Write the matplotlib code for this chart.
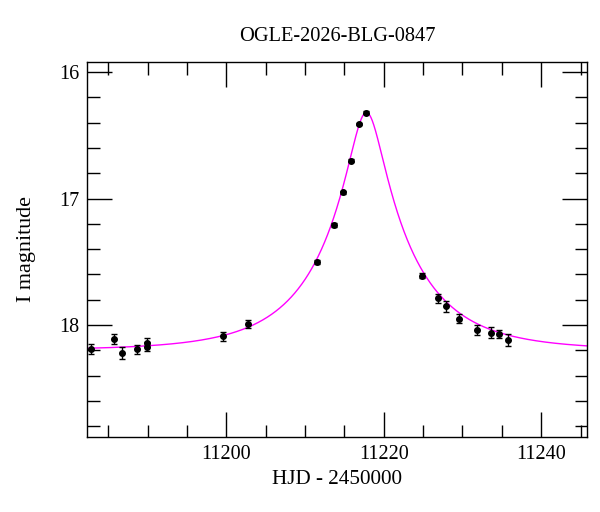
import numpy as np
import matplotlib
matplotlib.use("Agg")
import matplotlib.pyplot as plt
from matplotlib.ticker import MultipleLocator

# photometry (HJD - 2450000, I mag, error)
hjd = [11182.75, 11185.7, 11186.8, 11188.7, 11189.9, 11189.9, 11199.6, 11202.8,
       11211.5, 11213.7, 11214.8, 11215.8, 11216.8, 11217.8,
       11224.8, 11226.9, 11227.9, 11229.6, 11231.9, 11233.6, 11234.7, 11235.8]
mag = [18.19, 18.11, 18.22, 18.19, 18.17, 18.14, 18.09, 17.99,
       17.50, 17.21, 16.95, 16.70, 16.41, 16.32,
       17.61, 17.79, 17.85, 17.95, 18.04, 18.06, 18.07, 18.12]
err = [0.037, 0.038, 0.045, 0.036, 0.035, 0.035, 0.038, 0.033,
       0.015, 0.015, 0.012, 0.010, 0.010, 0.010,
       0.022, 0.036, 0.043, 0.037, 0.040, 0.042, 0.032, 0.047]

# point-lens model parameters
t0 = 11217.8
u0 = 0.179
tE = 11.5
I0 = 18.2

title = "OGLE-2026-BLG-0847"


def paczynski(t):
    u = np.sqrt(u0**2 + ((t - t0) / tE)**2)
    A = (u**2 + 2) / (u * np.sqrt(u**2 + 4))
    return I0 - 2.5 * np.log10(A)


plt.rcParams['font.family'] = ['Liberation Serif', 'DejaVu Serif']
plt.rcParams['font.size'] = 14.5

fig = plt.figure(figsize=(6, 5.12), dpi=100)
ax = fig.add_axes([0.145, 0.147, 0.833, 0.732])

tt = np.linspace(11182.3, 11245.8, 2000)
ax.plot(tt, paczynski(tt), color="#ff00ff", lw=1.0, zorder=2)
ax.errorbar(hjd, mag, yerr=err, fmt="o", color="black", ms=4,
            elinewidth=1.0, capsize=2.5, capthick=1.0, zorder=3)

ax.set_xlim(11182.3, 11245.8)
ax.set_ylim(18.883, 15.92)
ax.xaxis.set_major_locator(MultipleLocator(20))
ax.xaxis.set_minor_locator(MultipleLocator(5))
ax.yaxis.set_major_locator(MultipleLocator(1))
ax.yaxis.set_minor_locator(MultipleLocator(0.2))
ax.tick_params(which="both", direction="in", top=True, right=True, width=1.0)
ax.tick_params(which="major", length=18)
ax.tick_params(which="minor", length=9)
ax.tick_params(axis="x", which="major", pad=6)
ax.tick_params(axis="y", which="major", pad=5.5)
for s in ax.spines.values():
    s.set_linewidth(1.0)

xl = ax.set_xlabel("HJD - 2450000", labelpad=4.5)
yl = ax.set_ylabel("I magnitude", labelpad=17)
tl = ax.set_title(title, pad=15)

# size the texts to the widths measured on the reference (pixels)
fig.canvas.draw()
for txt, target, idx in [(tl, 196, 0), (xl, 130, 0), (yl, 106, 1)]:
    bb = txt.get_window_extent()
    size = bb.width if idx == 0 else bb.height
    txt.set_fontsize(txt.get_fontsize() * target / size)

fig.savefig("out.png", dpi=100)
